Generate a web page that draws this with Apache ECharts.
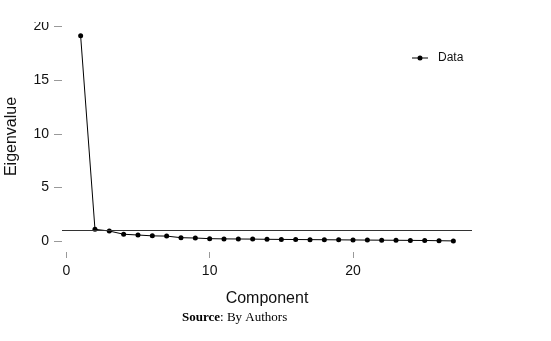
<!DOCTYPE html>
<html>
<head>
<meta charset="utf-8">
<script src="https://cdn.jsdelivr.net/npm/echarts@6/dist/echarts.min.js"></script>
<style>
  html, body { margin: 0; padding: 0; background: #fff; }
  #chart { width: 551px; height: 341px; }
</style>
</head>
<body>
<div id="chart"></div>
<script>
// Scree plot: eigenvalue of each principal component
const components = [1, 2, 3, 4, 5, 6, 7, 8, 9, 10, 11, 12, 13, 14, 15, 16, 17, 18, 19, 20, 21, 22, 23, 24, 25, 26, 27];
const eigenvalues = [19.1, 1.13, 0.97, 0.67, 0.60, 0.52, 0.50, 0.35, 0.32, 0.26, 0.24, 0.23, 0.22, 0.20, 0.19, 0.18, 0.17, 0.16, 0.15, 0.14, 0.13, 0.12, 0.11, 0.10, 0.09, 0.07, 0.05];
const xTicks = [0, 10, 20];
const yTicks = [0, 5, 10, 15, 20];
const kaiserCutoff = 1;
const seriesName = 'Data';

const chart = echarts.init(document.getElementById('chart'), null, { renderer: 'canvas' });

const axisText = { color: '#111', fontSize: 14, fontFamily: 'Liberation Sans, Arial, sans-serif' };

// legend glyph: short line with a dot in the middle
const legendIcon = 'path://M0,2.5L16,2.5L16,3.5L0,3.5Z M10.5,3A2.5,2.5,0,1,1,5.5,3A2.5,2.5,0,1,1,10.5,3Z';

chart.setOption({
  animation: false,
  backgroundColor: '#fff',
  grid: { left: 62, top: 24, width: 410, height: 225, outerBoundsMode: 'none', containLabel: false },
  legend: {
    left: 412,
    top: 52,
    padding: 0,
    itemWidth: 16,
    itemHeight: 6,
    data: [{ name: seriesName, icon: legendIcon }],
    itemStyle: { color: '#000' },
    textStyle: { color: '#111', fontSize: 12, fontFamily: 'Liberation Sans, Arial, sans-serif', padding: [0, 0, 0, 5] }
  },
  xAxis: {
    type: 'value',
    min: -0.3,
    max: 28.3,
    offset: 3,
    name: 'Component',
    nameLocation: 'middle',
    nameGap: 39,
    nameTextStyle: { color: '#111', fontSize: 16, fontFamily: 'Liberation Sans, Arial, sans-serif' },
    axisLine: { show: false, onZero: false },
    splitLine: { show: false },
    axisTick: { show: true, length: 6, customValues: xTicks, lineStyle: { color: '#999', width: 1 } },
    axisLabel: Object.assign({ margin: 12, customValues: xTicks }, axisText)
  },
  yAxis: {
    type: 'value',
    min: -0.7,
    max: 20.2,
    name: 'Eigenvalue',
    nameLocation: 'middle',
    nameRotate: 90,
    nameGap: 42,
    nameTextStyle: { color: '#111', fontSize: 16, fontFamily: 'Liberation Sans, Arial, sans-serif' },
    axisLine: { show: false, onZero: false },
    splitLine: { show: false },
    axisTick: { show: true, length: 8, customValues: yTicks, lineStyle: { color: '#999', width: 1 } },
    axisLabel: Object.assign({ margin: 13, customValues: yTicks }, axisText)
  },
  series: [{
    name: seriesName,
    type: 'line',
    data: components.map((c, i) => [c, eigenvalues[i]]),
    symbol: 'circle',
    symbolSize: 5,
    itemStyle: { color: '#000' },
    lineStyle: { color: '#000', width: 1 },
    markLine: {
      silent: true,
      symbol: 'none',
      label: { show: false },
      lineStyle: { color: '#333', width: 1, type: 'solid' },
      data: [{ yAxis: kaiserCutoff }]
    }
  }],
  graphic: [
    {
      type: 'rect',
      left: 0, top: 0,
      shape: { width: 120, height: 22 },
      style: { fill: '#fff' },
      z: 100
    },
    {
      type: 'text',
      left: 182,
      top: 311,
      style: {
        text: '{b|Source}: By Authors',
        fill: '#000',
        font: '13px "Liberation Serif", "Times New Roman", serif',
        rich: { b: { fontWeight: 'bold', fontSize: 13, fontFamily: 'Liberation Serif, Times New Roman, serif', fill: '#000' } }
      },
      z: 100
    }
  ]
});
</script>
</body>
</html>
